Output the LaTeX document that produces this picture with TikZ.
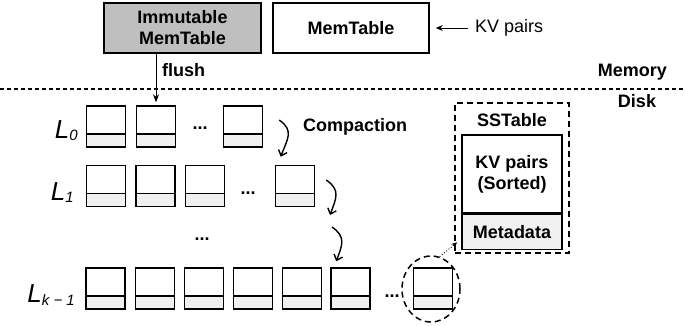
\documentclass[tikz,border=0pt]{standalone}
\usepackage{fontspec}
\setmainfont{Liberation Sans}
\usetikzlibrary{arrows.meta,positioning,shapes.geometric}
\definecolor{darkgrey}{RGB}{191,191,191}
\definecolor{lightgrey}{RGB}{240,240,240}
\newcommand{\fs}{\fontsize{18}{21}\selectfont}
\newcommand{\subfs}{\fontsize{15}{15}\selectfont}
\tikzset{%
    box/.style={draw, line width=1.5pt, font=\fs\bfseries, align=center, inner sep=0pt},
    blk/.style={%
        draw, line width=1.5pt, minimum width=39pt, minimum height=41pt, inner sep=0pt,
        path picture={%
            \fill[lightgrey] (path picture bounding box.south west) rectangle ([yshift=13pt]path picture bounding box.south east);
            \draw[line width=1.5pt] ([yshift=13pt]path picture bounding box.south west) -- ([yshift=13pt]path picture bounding box.south east);
        }
    },
    lvl/.style={font=\fontsize{26}{26}\selectfont\itshape, inner sep=0pt, anchor=base east},
    dots/.style={font=\fs\bfseries, inner sep=0pt, anchor=base},
    cmp/.style={-{Straight Barb[length=5pt,width=9pt]}, line width=1.4pt},
    ssframe/.style={draw, line width=1.5pt, dash pattern=on 6pt off 4pt}
}
\begin{document}
\begin{tikzpicture}[x=1pt, y=-1pt]
    \useasboundingbox (0,0) rectangle (685,325);
    % memory part
    \node[box, fill=darkgrey, minimum width=157pt, minimum height=50pt] (imm) at (182.5,28) {Immutable\\MemTable};
    \node[box, minimum width=156pt, minimum height=50pt] (mem) at (351,28) {MemTable};
    \node[font=\fs, anchor=west, inner sep=0pt] (kv) at (475,28) {KV pairs};
    \draw[-{Stealth[length=7pt,width=6pt]}, line width=0.9pt, shorten <=7pt, shorten >=6pt] (kv) -- (mem);
    \draw[line width=1.2pt, dash pattern=on 4pt off 3pt] (0,89) -- (685,89);
    \node[font=\fs\bfseries, anchor=east, inner sep=0pt] (memory) at (667,72) {Memory};
    \node[font=\fs\bfseries, inner sep=0pt] (disk) at (637,101) {Disk};
    % levels
    \foreach \n/\x in {a/106,b/156,c/243}
        \node[blk] (l0\n) at (\x,126.5) {};
    \foreach \n/\x in {a/106,b/155.5,c/205,d/295}
        \node[blk] (l1\n) at (\x,186) {};
    \foreach \n/\x in {a/105.5,b/155,c/204,d/253,e/302,f/350.5,g/433}
        \node[blk] (lk\n) at (\x,288.5) {};
    \node[lvl] (lab0) at (78,138) {L\raisebox{-2pt}{\subfs 0}};
    \node[lvl] (lab1) at (74,200) {L\raisebox{-2pt}{\subfs 1}};
    \node[lvl] (labk) at (75,302) {L\raisebox{-3pt}{\subfs k − 1}};
    \node[dots] (d0) at (200,129.5) {...};
    \node[dots] (d1) at (248,194.5) {...};
    \node[dots] (dm) at (202,240) {...};
    \node[dots] (dk) at (392,297) {...};
    \draw[-{Stealth[length=8pt,width=6pt]}, line width=0.9pt, shorten >=3pt] (imm.south -| l0b.north) -- (l0b.north);
    \node[font=\fs\bfseries, anchor=west, inner sep=0pt] (flush) at (162,70) {flush};
    % compaction
    \node[font=\fs\bfseries, anchor=west, inner sep=0pt] (cmptxt) at (303,127) {Compaction};
    \coordinate (m1) at (330,215);
    \coordinate (m2) at (332,227);
    \draw[cmp] ([xshift=16pt,yshift=6.5pt]l0c.east) to[out=-35, in=70, looseness=1.3] ([xshift=6pt,yshift=8pt]l1d.north west);
    \draw[cmp] ([xshift=11pt,yshift=6pt]l1d.east) to[out=-35, in=70, looseness=1.3] (m1);
    \draw[cmp] (m2) to[out=-35, in=70, looseness=1.3] ([xshift=6pt,yshift=6pt]lkf.north west);
    % sstable
    \node[ssframe, minimum width=114pt, minimum height=150pt] (ssbox) at (512,178) {};
    \node[font=\fs\bfseries, inner sep=0pt] (sst) at (512,120) {SSTable};
    \node[box, minimum width=100pt, minimum height=78pt] (kvs) at (512,174) {KV pairs\\(Sorted)};
    \node[box, fill=lightgrey, minimum width=100pt, minimum height=35pt, below=0pt of kvs] (meta) {Metadata};
    \node[ssframe, ellipse, minimum width=58pt, minimum height=66pt] (circ) at (431,289) {};
    \draw[dotted, line width=0.9pt, -{Stealth[length=6pt,width=5pt]}] (circ.75) -- ([xshift=-4pt,yshift=8pt]meta.south west);
\end{tikzpicture}
\end{document}
